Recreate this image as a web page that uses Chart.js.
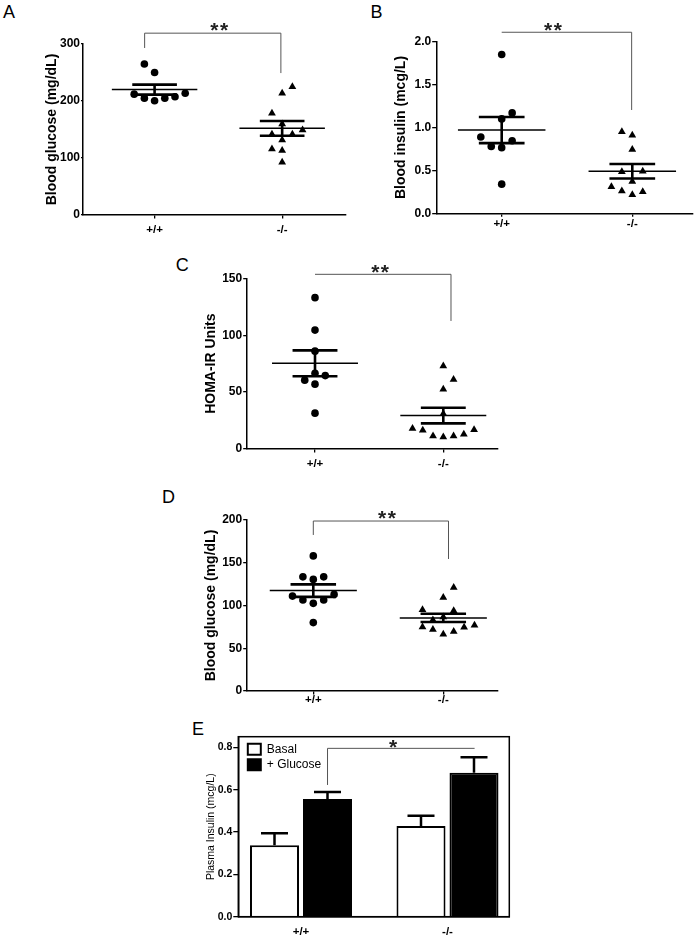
<!DOCTYPE html>
<html>
<head>
<meta charset="utf-8">
<script src="https://cdn.jsdelivr.net/npm/chart.js@4.4.1/dist/chart.umd.min.js"></script>
<style>
  body { margin: 0; background: #fff; width: 698px; height: 937px; position: relative; overflow: hidden; font-family: 'Liberation Sans', Arial, sans-serif; }
  canvas { position: absolute; }
  .lbl { position: absolute; font-size: 18px; line-height: 18px; color: #000; }
</style>
</head>
<body>
<div class="lbl" style="left:3px;top:2.6px">A</div>
<div class="lbl" style="left:370.5px;top:2.6px">B</div>
<div class="lbl" style="left:175.8px;top:256px">C</div>
<div class="lbl" style="left:162px;top:487.6px">D</div>
<div class="lbl" style="left:192px;top:719.6px">E</div>
<canvas id="cA"></canvas>
<canvas id="cB"></canvas>
<canvas id="cC"></canvas>
<canvas id="cD"></canvas>
<canvas id="cE"></canvas>
<script>
const groups = ['+/+', '-/-'];

// A: blood glucose (mg/dL)
const aYTicks = [0, 100, 200, 300];
const aWt = [265, 250, 212, 205, 200.5, 205, 207.5, 213.5];
const aWtSlot = [-1, 0, -2, -1, 0, 1, 2, 3];
const aKo = [225, 213.5, 178.5, 159.5, 141.5, 131.5, 141.5, 149, 116, 113, 92.5];
const aKoSlot = [1, 0, -1, 0, -1, 0, 1, 2, -1, 0, 0];
const aMean = [220, 152];
const aSem = [8.8, 12.9];

// B: blood insulin (mcg/L)
const bYTicks = [0, 0.5, 1, 1.5, 2];
const bWt = [1.85, 1.17, 1.10, 0.89, 0.78, 0.765, 0.845, 0.34];
const bWtSlot = [0, 1, 0, -2, -1, 0, 1, 0];
const bKo = [0.95, 0.91, 0.745, 0.485, 0.49, 0.37, 0.31, 0.26, 0.215, 0.25];
const bKoSlot = [-1, 0, 0, -1, 1, 0, -2, -1, 0, 1];
const bMean = [0.97, 0.49];
const bSem = [0.152, 0.085];

// C: HOMA-IR
const cYTicks = [0, 50, 100, 150];
const cWt = [133, 104.5, 86, 66.5, 60.5, 64.5, 57, 31.5];
const cWtSlot = [0, 0, 0, 0, -1, 1, 0, 0];
const cKo = [73, 61, 52.5, 31, 18, 16.5, 11.5, 10.5, 11.5, 13, 17];
const cKoSlot = [0, 1, 0, 0, -3, -2, -1, 0, 1, 2, 3];
const cMean = [75.3, 29.4];
const cSem = [11.4, 6.9];

// D: blood glucose (mg/dL)
const dYTicks = [0, 50, 100, 150, 200];
const dWt = [158, 133.5, 130.5, 133.5, 111, 106.5, 102.5, 106.5, 113, 80];
const dWtSlot = [0, -1, 0, 1, -2, -1, 0, 1, 2, 0];
const dKo = [121, 109.5, 95, 94, 83, 86.5, 75, 72, 66.5, 69.5, 74.5, 77];
const dKoSlot = [1, 0, -2, 1, -1, 0, -2, -1, 0, 1, 2, 3];
const dMean = [117.4, 85.5];
const dSem = [7.3, 4.8];

// E: plasma insulin (mcg/L)
const eYTicks = [0, 0.2, 0.4, 0.6, 0.8];
const eBasal = [0.337, 0.428];
const eBasalErr = [0.057, 0.049];
const eGlucose = [0.556, 0.680];
const eGlucoseErr = [0.033, 0.073];

const FONT = "'Liberation Sans', Arial, sans-serif";
const SLOT = 0.08;        // dot spacing, in group units
const MEAN_HALF = 0.335;
const SEM_HALF = 0.175;

// box = canvas [left, top, w, h]; area = wanted plot area [L, T, R, B]; cx = pixel centres of the two groups
function geom(box, area, cx, titleX, titleLH) {
  const padL = titleX - titleLH / 2 - box[0];
  const span = cx[1] - cx[0];
  return {
    padL, yW: area[0] - box[0] - padL, padT: area[1] - box[1], padR: box[0] + box[2] - area[2],
    xH: box[1] + box[3] - area[3],
    xMin: -(cx[0] - area[0]) / span, xMax: 1 + (area[2] - cx[1]) / span
  };
}

function place(id, box) {
  const c = document.getElementById(id);
  c.width = box[2]; c.height = box[3];
  c.style.left = box[0] + 'px'; c.style.top = box[1] + 'px';
  return c;
}

const bracketPlugin = {
  id: 'bracket',
  afterDraw(chart, args, o) {
    const {ctx, scales: {x, y}} = chart;
    const X0 = x.getPixelForValue(o.x0), X1 = x.getPixelForValue(o.x1);
    const YT = y.getPixelForValue(o.top);
    ctx.save();
    ctx.strokeStyle = '#555';
    ctx.lineWidth = 1;
    ctx.beginPath();
    ctx.moveTo(X0, o.left != null ? y.getPixelForValue(o.left) : YT);
    ctx.lineTo(X0, YT);
    ctx.lineTo(X1, YT);
    ctx.lineTo(X1, o.right != null ? y.getPixelForValue(o.right) : YT);
    ctx.stroke();
    const fs = 21;
    ctx.fillStyle = '#222';
    ctx.font = 'bold ' + fs + 'px ' + FONT;
    ctx.letterSpacing = '1.5px';
    ctx.textAlign = 'center';
    ctx.textBaseline = 'alphabetic';
    ctx.fillText(o.text, x.getPixelForValue(o.tx) + 0.75, YT - o.dy + 0.58 * fs);
    ctx.restore();
  }
};

function seg(x0, y0, x1, y1, w) {
  return { data: [{x: x0, y: y0}, {x: x1, y: y1}], showLine: true, borderColor: '#000',
           borderWidth: w, pointRadius: 0, borderCapStyle: 'butt' };
}

function scatterPanel(p) {
  const g = geom(p.box, p.area, p.cx, p.titleX, 16.8);
  const canvas = place(p.id, p.box);
  const ds = [
    { data: p.wt.map((v, i) => ({x: p.wtSlot[i] * SLOT, y: v})), pointStyle: 'circle',
      pointRadius: 3.8, backgroundColor: '#000', borderColor: '#000', borderWidth: 0 },
    { data: p.ko.map((v, i) => ({x: 1 + p.koSlot[i] * SLOT, y: v})), pointStyle: 'triangle',
      pointRadius: 4.5, backgroundColor: '#000', borderColor: '#000', borderWidth: 0 }
  ];
  [0, 1].forEach(k => {
    const m = p.mean[k], s = p.sem[k];
    ds.push(seg(k - MEAN_HALF, m, k + MEAN_HALF, m, 1.5));
    ds.push(seg(k - SEM_HALF, m + s, k + SEM_HALF, m + s, 2.6));
    ds.push(seg(k - SEM_HALF, m - s, k + SEM_HALF, m - s, 2.6));
    ds.push(seg(k, m - s, k, m + s, 2.6));
  });
  new Chart(canvas, {
    type: 'scatter',
    data: { datasets: ds },
    options: {
      responsive: false, animation: false, events: [],
      layout: { padding: { left: g.padL, top: g.padT, right: g.padR, bottom: 0 } },
      plugins: { legend: { display: false }, tooltip: { enabled: false }, bracket: p.bracket },
      scales: {
        x: {
          type: 'linear', min: g.xMin, max: g.xMax,
          afterBuildTicks: s => { s.ticks = [{value: 0}, {value: 1}]; },
          afterFit: s => { s.height = g.xH; },
          grid: { drawOnChartArea: false, drawTicks: true, tickLength: 3.5, color: '#000', lineWidth: 1.3 },
          border: { color: '#000', width: 1.5 },
          ticks: { callback: v => groups[v], font: { family: FONT, size: 11.5, weight: 'bold' }, color: '#000',
                   padding: p.xPad, maxRotation: 0, autoSkip: false }
        },
        y: {
          min: 0, max: p.yMax,
          afterBuildTicks: s => { s.ticks = p.yTicks.map(v => ({value: v})); },
          afterFit: s => { s.width = g.yW; },
          grid: { drawOnChartArea: false, drawTicks: true, tickLength: p.yTick, color: '#000', lineWidth: 1.3 },
          border: { color: '#000', width: 1.5 },
          ticks: { callback: p.fmt, font: { family: FONT, size: 12, weight: 'bold' }, color: '#000', padding: 1 },
          title: { display: true, text: p.title, font: { family: FONT, size: 14, weight: 'bold' }, color: '#000', padding: 0 }
        }
      }
    },
    plugins: [bracketPlugin]
  });
}

const int = v => v;
const one = v => v.toFixed(1);

scatterPanel({ id: 'cA', box: [0, 0, 350, 240], area: [83, 44, 347, 215], cx: [155, 283.3], titleX: 52.5,
  title: 'Blood glucose (mg/dL)', yMax: 300, yTicks: aYTicks, fmt: int, yTick: 2, xPad: 4.2,
  wt: aWt, wtSlot: aWtSlot, ko: aKo, koSlot: aKoSlot, mean: aMean, sem: aSem,
  bracket: { x0: -0.078, x1: 0.99, top: 319, left: 293, right: 249, tx: 0.507, dy: 8, text: '**' } });

scatterPanel({ id: 'cB', box: [352, 0, 346, 240], area: [436.7, 41.7, 693, 213.3], cx: [501.7, 632.3], titleX: 401,
  title: 'Blood insulin (mcg/L)', yMax: 2, yTicks: bYTicks, fmt: one, yTick: 4.5, xPad: -0.3,
  wt: bWt, wtSlot: bWtSlot, ko: bKo, koSlot: bKoSlot, mean: bMean, sem: bSem,
  bracket: { x0: 0, x1: 0.995, top: 2.11, left: null, right: 1.204, tx: 0.393, dy: 7, text: '**' } });

scatterPanel({ id: 'cC', box: [160, 250, 345, 225], area: [246.7, 278.3, 498, 449], cx: [315, 443.3], titleX: 210.8,
  title: 'HOMA-IR Units', yMax: 150, yTicks: cYTicks, fmt: int, yTick: 3.5, xPad: 4.2,
  wt: cWt, wtSlot: cWtSlot, ko: cKo, koSlot: cKoSlot, mean: cMean, sem: cSem,
  bracket: { x0: 0, x1: 1.06, top: 153.5, left: null, right: 112.5, tx: 0.507, dy: 7, text: '**' } });

scatterPanel({ id: 'cD', box: [160, 480, 345, 235], area: [246.7, 520, 498, 691], cx: [313.3, 443.3], titleX: 210.8,
  title: 'Blood glucose (mg/dL)', yMax: 200, yTicks: dYTicks, fmt: int, yTick: 3.5, xPad: -1.8,
  wt: dWt, wtSlot: dWtSlot, ko: dKo, koSlot: dKoSlot, mean: dMean, sem: dSem,
  bracket: { x0: 0, x1: 1.04, top: 198.8, left: 182.5, right: 154.4, tx: 0.567, dy: 8, text: '**' } });

// E: grouped bars
const errPlugin = {
  id: 'errbars',
  afterDatasetsDraw(chart) {
    const {ctx, scales: {y}} = chart;
    ctx.save();
    ctx.strokeStyle = '#000';
    ctx.lineWidth = 2.5;
    [eBasalErr, eGlucoseErr].forEach((errs, di) => {
      const vals = chart.data.datasets[di].data;
      chart.getDatasetMeta(di).data.forEach((bar, i) => {
        const top = y.getPixelForValue(vals[i].y + errs[i]);
        ctx.beginPath();
        ctx.moveTo(bar.x, bar.y); ctx.lineTo(bar.x, top);
        ctx.moveTo(bar.x - 13.5, top); ctx.lineTo(bar.x + 13.5, top);
        ctx.stroke();
      });
    });
    ctx.restore();
  }
};
const framePlugin = {
  id: 'frame',
  // a chartArea legend is laid out from the canvas top; put it just inside the frame
  afterLayout(chart) { chart.legend.left = chart.chartArea.left + 6; chart.legend.top = chart.chartArea.top + 3; },
  afterDraw(chart) {
    const {ctx, chartArea: a} = chart;
    ctx.save();
    ctx.strokeStyle = '#000';
    ctx.lineWidth = 1.5;
    ctx.strokeRect(a.left, a.top, a.right - a.left, a.bottom - a.top);
    ctx.restore();
  }
};

(function () {
  const box = [160, 722, 360, 215];
  const g = geom(box, [238.3, 736.7, 509.3, 916.7], [301, 447.5], 211.3, 12.6);
  const canvas = place('cE', box);
  const barOpts = { borderColor: '#000', borderWidth: 2, barPercentage: 0.925, categoryPercentage: 0.7235 };
  new Chart(canvas, {
    type: 'bar',
    data: {
      datasets: [
        Object.assign({ label: 'Basal', data: eBasal.map((v, i) => ({x: i, y: v})), backgroundColor: '#fff' }, barOpts),
        Object.assign({ label: '+ Glucose', data: eGlucose.map((v, i) => ({x: i, y: v})), backgroundColor: '#000' }, barOpts)
      ]
    },
    options: {
      responsive: false, animation: false, events: [],
      layout: { padding: { left: g.padL, top: g.padT, right: g.padR, bottom: 0 } },
      plugins: {
        tooltip: { enabled: false },
        legend: { position: 'chartArea', align: 'start',
                  labels: { boxWidth: 13, boxHeight: 11, padding: 3.5, color: '#000', font: { family: FONT, size: 12 } } },
        bracket: { x0: 0.181, x1: 1.185, top: 0.795, left: 0.622, right: null, tx: 0.628, dy: 6.5, text: '*' }
      },
      scales: {
        x: {
          type: 'linear', min: g.xMin, max: g.xMax, offset: false,
          afterBuildTicks: s => { s.ticks = [{value: 0}, {value: 1}]; },
          afterFit: s => { s.height = g.xH; },
          grid: { display: false, drawTicks: false },
          border: { color: '#000', width: 1.5 },
          ticks: { callback: v => groups[v], font: { family: FONT, size: 11.5, weight: 'bold' }, color: '#000',
                   padding: 8.2, maxRotation: 0, autoSkip: false }
        },
        y: {
          min: 0, max: 0.85,
          afterBuildTicks: s => { s.ticks = eYTicks.map(v => ({value: v})); },
          afterFit: s => { s.width = g.yW; },
          grid: { drawOnChartArea: false, drawTicks: true, tickLength: 5, color: '#000', lineWidth: 1.3 },
          border: { color: '#000', width: 1.5 },
          ticks: { callback: one, font: { family: FONT, size: 10.5, weight: 'bold' }, color: '#000', padding: 1 },
          title: { display: true, text: 'Plasma Insulin (mcg/L)', font: { family: FONT, size: 10.5 }, color: '#000', padding: 0 }
        }
      }
    },
    plugins: [bracketPlugin, errPlugin, framePlugin]
  });
})();
</script>
</body>
</html>
